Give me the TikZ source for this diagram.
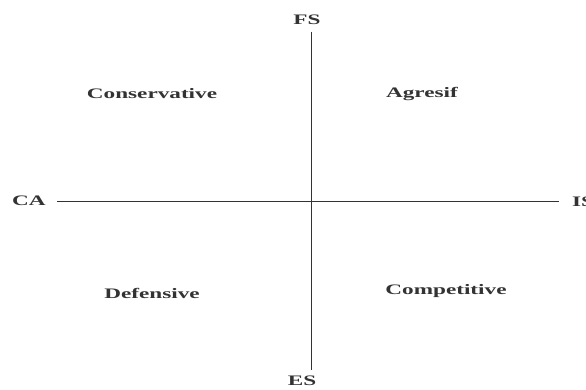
\documentclass[tikz,border=0pt]{standalone}
\usepackage{fontspec}
\setmainfont{Liberation Serif}
\newcommand{\wide}[1]{\scalebox{1.6}[1]{#1}}
\begin{document}
\begin{tikzpicture}[x=1pt,y=-1pt,
  lbl/.style={font=\fontsize{14.5}{16}\selectfont\bfseries, text=black!80, inner sep=0pt},
  axis/.style={draw=black!80, line width=0.8pt}]
\path[use as bounding box, clip] (0,0) rectangle (586,390);
\fill[white] (0,0) rectangle (586,390);
\node[lbl] (fs) at (307,20) {\wide{FS}};
\node[lbl] (es) at (302,381) {\wide{ES}};
\node[lbl] (ca) at (29,201) {\wide{CA}};
\node[lbl, anchor=west] (is) at (572,202) {\wide{IS}};
\coordinate (top) at (311,32);
\coordinate (bot) at (311,370);
\coordinate (lft) at (57,201.5);
\coordinate (rgt) at (559,201.5);
\draw[axis] (top) -- (bot);
\draw[axis] (lft) -- (rgt);
\node[lbl] (cons) at (152,94) {\wide{Conservative}};
\node[lbl] (agr) at (422,94) {\wide{Agresif}};
\node[lbl] (def) at (152,293) {\wide{Defensive}};
\node[lbl] (comp) at (446,291) {\wide{Competitive}};
\end{tikzpicture}
\end{document}
